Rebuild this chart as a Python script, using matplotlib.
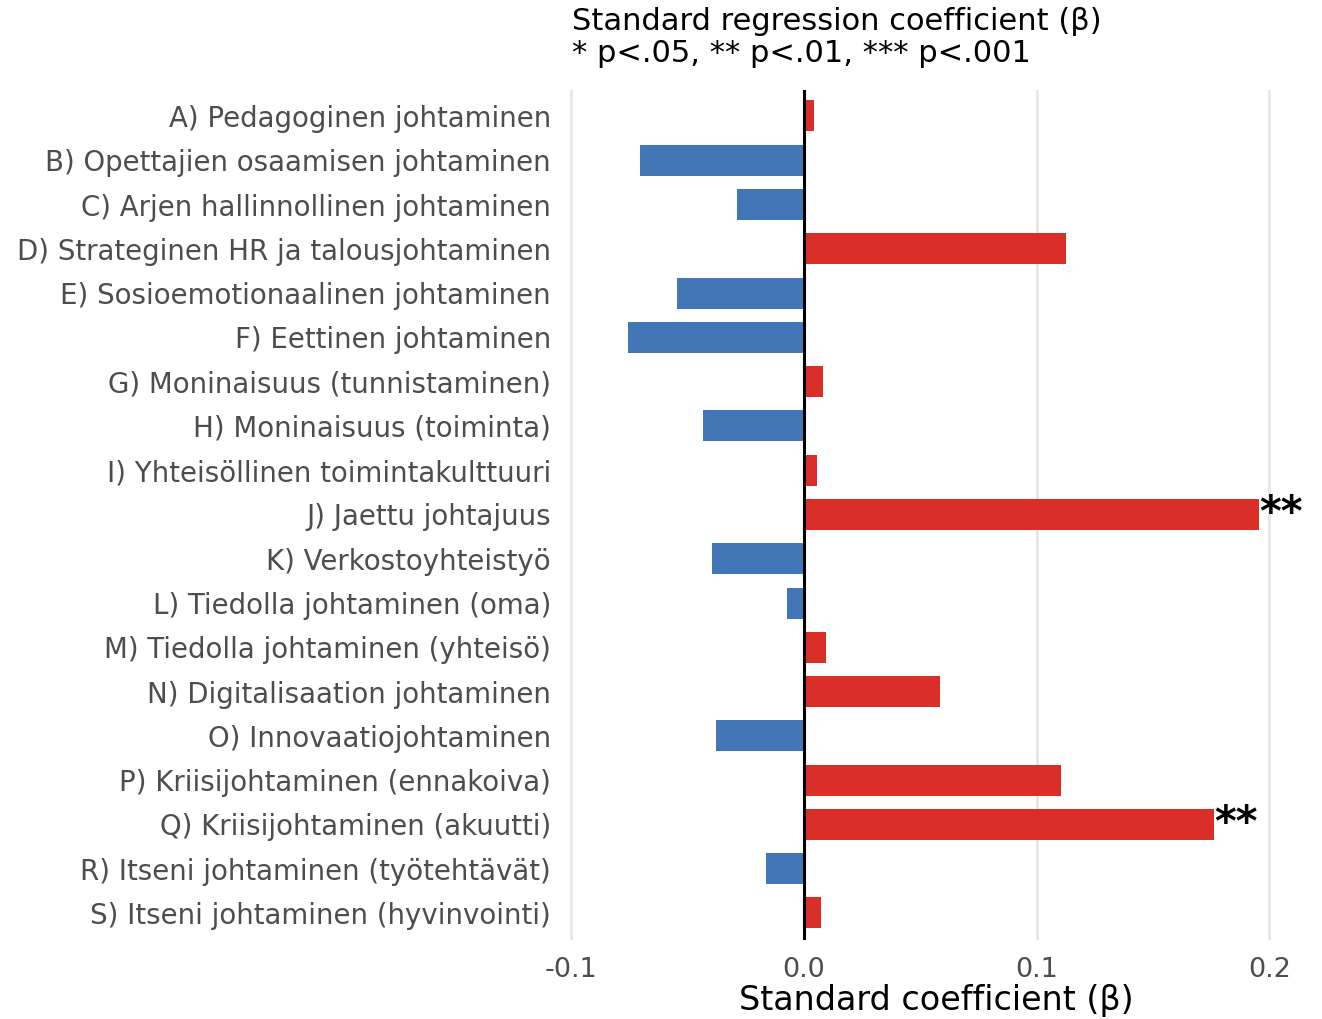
import matplotlib
matplotlib.use('Agg')
import matplotlib.pyplot as plt

plt.rcParams['font.family'] = ['DejaVu Sans']

labels = [
    'A) Pedagoginen johtaminen',
    'B) Opettajien osaamisen johtaminen',
    'C) Arjen hallinnollinen johtaminen',
    'D) Strateginen HR ja talousjohtaminen',
    'E) Sosioemotionaalinen johtaminen',
    'F) Eettinen johtaminen',
    'G) Moninaisuus (tunnistaminen)',
    'H) Moninaisuus (toiminta)',
    'I) Yhteisöllinen toimintakulttuuri',
    'J) Jaettu johtajuus',
    'K) Verkostoyhteistyö',
    'L) Tiedolla johtaminen (oma)',
    'M) Tiedolla johtaminen (yhteisö)',
    'N) Digitalisaation johtaminen',
    'O) Innovaatiojohtaminen',
    'P) Kriisijohtaminen (ennakoiva)',
    'Q) Kriisijohtaminen (akuutti)',
    'R) Itseni johtaminen (työtehtävät)',
    'S) Itseni johtaminen (hyvinvointi)',
]
beta = [0.0043, -0.0705, -0.0288, 0.1126, -0.0546, -0.0756, 0.0082, -0.0434,
        0.0056, 0.1955, -0.0395, -0.0073, 0.0095, 0.0584, -0.0378, 0.1104,
        0.1762, -0.0163, 0.0073]
stars = ['', '', '', '', '', '', '', '', '', '**', '', '', '', '', '', '', '**', '', '']

RED = '#D92F28'
BLUE = '#4376B6'

fig = plt.figure(figsize=(13.22, 10.19), dpi=100)
W, H = 1322, 1019
left, right, top, bottom = 562, 1310, 90, 940
ax = fig.add_axes([left / W, 1 - bottom / H, (right - left) / W, (bottom - top) / H])

ypos = list(range(len(labels)))
colors = [RED if b > 0 else BLUE for b in beta]
ax.barh(ypos, beta, height=0.7, color=colors, zorder=2)

for y, b, s in zip(ypos, beta, stars):
    if s:
        ax.text(b, y - 0.02, s, ha='left', va='center', fontsize=30,
                fontweight='bold', color='black', zorder=3)

ax.axvline(0, color='black', lw=2.2, zorder=3)

ax.set_xlim(-0.104, 0.2175)
ax.set_ylim(18.61, -0.587)
ax.set_xticks([-0.1, 0.0, 0.1, 0.2])
ax.set_xticklabels(['-0.1', '0.0', '0.1', '0.2'])
ax.set_yticks(ypos)
ax.set_yticklabels(labels)
ax.grid(axis='x', color='#e6e6e6', lw=2, zorder=0)
ax.grid(axis='y', visible=False)
for sp in ax.spines.values():
    sp.set_visible(False)
ax.tick_params(axis='both', length=0, colors='#4d4d4d')
ax.tick_params(axis='y', pad=8, labelsize=19.9)
ax.tick_params(axis='x', pad=12, labelsize=19.5)

ax.set_xlabel('Standard coefficient (β)', fontsize=24, color='black', labelpad=1)

fig.text(572 / W, 1 - 7 / H,
         'Standard regression coefficient (β)\n* p<.05, ** p<.01, *** p<.001',
         ha='left', va='top', fontsize=22, color='black', linespacing=1.15)

fig.savefig('out.png', dpi=100)
